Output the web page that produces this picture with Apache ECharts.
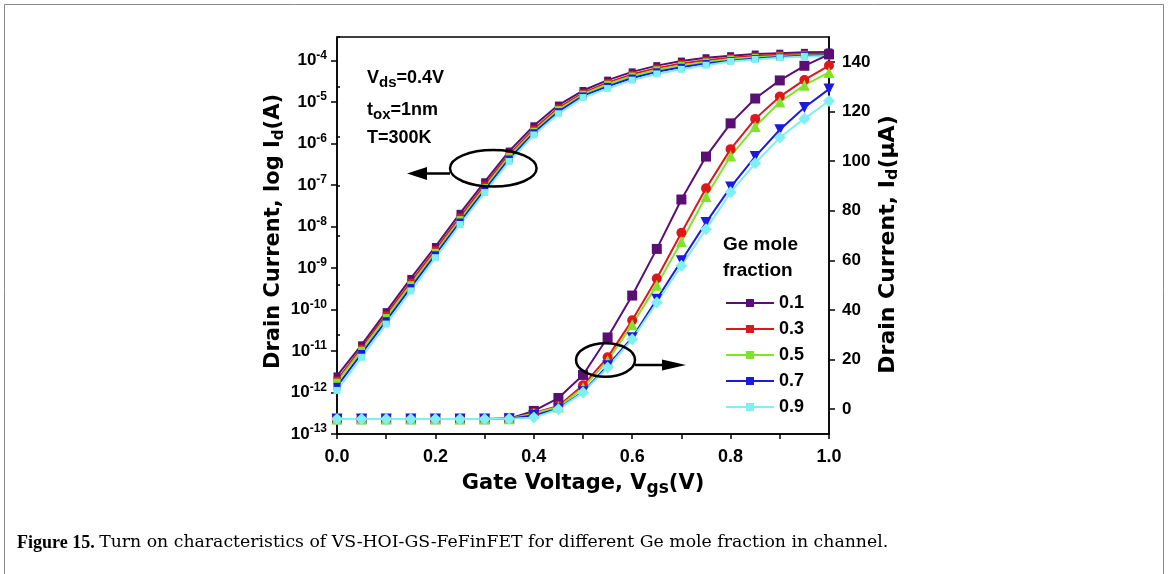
<!DOCTYPE html>
<html>
<head>
<meta charset="utf-8">
<script src="https://cdn.jsdelivr.net/npm/echarts@6/dist/echarts.min.js"></script>
<style>
html,body{margin:0;padding:0;background:#fff;}
#chart{width:1170px;height:574px;}
</style>
</head>
<body>
<div id="chart"></div>
<script>
// ---- data ----
const vgs = [0,0.05,0.1,0.15,0.2,0.25,0.3,0.35,0.4,0.45,0.5,0.55,0.6,0.65,0.7,0.75,0.8,0.85,0.9,0.95,1.0];
const fractions = ['0.1','0.3','0.5','0.7','0.9'];
// log10 of drain current (A), left axis
const logId_01 = [-11.60,-10.85,-10.05,-9.25,-8.48,-7.68,-6.92,-6.18,-5.57,-5.07,-4.72,-4.47,-4.27,-4.12,-4.01,-3.93,-3.88,-3.84,-3.82,-3.80,-3.79];
const logId_03 = [-11.70,-10.93,-10.13,-9.34,-8.56,-7.77,-7.00,-6.26,-5.65,-5.14,-4.78,-4.53,-4.33,-4.18,-4.07,-3.99,-3.93,-3.89,-3.86,-3.84,-3.83];
const logId_05 = [-11.75,-10.98,-10.19,-9.40,-8.62,-7.83,-7.06,-6.31,-5.70,-5.18,-4.81,-4.57,-4.37,-4.22,-4.11,-4.03,-3.96,-3.92,-3.89,-3.87,-3.86];
const logId_07 = [-11.85,-11.06,-10.27,-9.47,-8.68,-7.89,-7.12,-6.37,-5.74,-5.23,-4.85,-4.62,-4.42,-4.27,-4.16,-4.07,-4.00,-3.95,-3.91,-3.88,-3.87];
const logId_09 = [-11.95,-11.15,-10.35,-9.55,-8.75,-7.95,-7.18,-6.43,-5.79,-5.28,-4.89,-4.67,-4.47,-4.32,-4.21,-4.11,-4.02,-3.97,-3.93,-3.90,-3.89];
// linear drain current (uA), right axis
const linId_01 = [-4,-4,-4,-4,-4,-4,-4,-3.8,-0.7,4.5,13.8,28.9,45.8,64.6,84.5,101.8,115.2,125.2,132.5,138.4,143.0];
const linId_03 = [-4,-4,-4,-4,-4,-4,-4,-3.9,-1.5,1.3,9.6,20.9,35.8,52.7,71.1,89.0,104.8,117.0,126.0,132.7,138.5];
const linId_05 = [-4,-4,-4,-4,-4,-4,-4,-3.9,-1.7,0.9,8.6,19.5,34.0,50.0,67.5,85.7,102.0,113.9,123.8,130.6,135.7];
const linId_07 = [-4,-4,-4,-4,-4,-4,-4,-3.9,-2.5,0.2,7.0,17.5,28.8,44.3,59.8,75.2,89.5,101.8,112.6,121.6,129.0];
const linId_09 = [-4,-4,-4,-4,-4,-4,-4,-3.9,-3.4,0.0,6.7,16.8,28.2,43.0,57.8,72.5,87.4,99.1,109.5,117.1,124.2];
// tick labels
const xTicks = [0,0.2,0.4,0.6,0.8,1.0];
const xMinorTicks = [0,0.1,0.2,0.3,0.4,0.5,0.6,0.7,0.8,0.9,1.0];
const logTicks = [-13,-12,-11,-10,-9,-8,-7,-6,-5,-4];
const rightTicks = [0,20,40,60,80,100,120,140];
const rightMinorTicks = [-10,10,30,50,70,90,110,130,150];

const colors = ['#5A0F73','#E0161B','#7FE32A','#1A1AE0','#7FEFF2'];
const logData = [logId_01,logId_03,logId_05,logId_07,logId_09];
const linData = [linId_01,linId_03,linId_05,linId_07,linId_09];
const linSymbols = ['rect','circle','triangle','triangle','diamond'];
const linSymbolSize = [10,10,11,11,12];
const linSymbolRotate = [0,0,0,180,0];

const FONT = '"Liberation Sans", Arial, sans-serif';
const TFONT = '"DejaVu Sans", sans-serif';
const chart = echarts.init(document.getElementById('chart'), null, {renderer:'canvas'});

const series = [];
fractions.forEach((f,i)=>{
  series.push({
    name:f, type:'line', yAxisIndex:0, xAxisIndex:0,
    data: vgs.map((x,k)=>[x, logData[i][k]]),
    symbol:'rect', symbolSize:7,
    lineStyle:{color:colors[i], width:2},
    itemStyle:{color:colors[i]},
    animation:false, z:2
  });
});
fractions.forEach((f,i)=>{
  series.push({
    name:f, type:'line', yAxisIndex:1, xAxisIndex:0,
    data: vgs.map((x,k)=>[x, linData[i][k]]),
    symbol:linSymbols[i], symbolSize:linSymbolSize[i], symbolRotate:linSymbolRotate[i],
    lineStyle:{color:colors[i], width:2},
    itemStyle:{color:colors[i]},
    animation:false, z:3
  });
});

const axisLine = {show:true, onZero:false, lineStyle:{color:'#000', width:1.5}};
const subRich = (fs)=>({sub:{fontSize:fs, fontWeight:'bold', fontFamily:TFONT, lineHeight:12, verticalAlign:'bottom', color:'#000'}});

const option = {
  animation:false,
  backgroundColor:'#fff',
  grid:{left:337, top:37, width:492, height:397, show:true, borderColor:'#000', borderWidth:1.5, containLabel:false},
  xAxis:[{
    type:'value', min:0, max:1, interval:0.1,
    axisLine:axisLine,
    axisTick:{show:true, inside:false, length:5, lineStyle:{color:'#000', width:1.5}, customValues:xMinorTicks},
    axisLabel:{customValues:xTicks, formatter:v=>v.toFixed(1), color:'#000', fontSize:18, fontWeight:'bold', fontFamily:FONT, margin:14},
    splitLine:{show:false},
    name:'Gate Voltage, V{sub|gs}(V)', nameLocation:'middle', nameGap:34,
    nameTextStyle:{color:'#000', fontSize:21, fontWeight:'bold', fontFamily:TFONT, lineHeight:26, rich:subRich(17)}
  }],
  yAxis:[{
    type:'value', min:-13, max:-3.43, interval:1, position:'left',
    axisLine:axisLine,
    axisTick:{show:true, length:6, lineStyle:{color:'#000', width:1.5}, customValues:logTicks},
    axisLabel:{customValues:logTicks, margin:10, color:'#000', fontFamily:FONT,
      formatter:v=>'{b|10}{s|'+Math.round(v)+'}',
      rich:{b:{fontSize:17, fontWeight:'bold', fontFamily:FONT, lineHeight:22, color:'#000'},
            s:{fontSize:12, fontWeight:'bold', fontFamily:FONT, lineHeight:8, verticalAlign:'top', color:'#000'}}},
    splitLine:{show:false},
    name:'Drain Current, log I{sub|d}(A)', nameLocation:'middle', nameGap:43,
    nameTextStyle:{color:'#000', fontSize:21, fontWeight:'bold', fontFamily:TFONT, lineHeight:26, padding:[0,0,0,8], rich:subRich(15)}
  },{
    type:'value', min:-10, max:150, interval:10, position:'right',
    axisLine:axisLine,
    axisTick:{show:true, length:6, lineStyle:{color:'#000', width:1.5}, customValues:rightTicks},
    axisLabel:{customValues:rightTicks, margin:13, color:'#000', fontSize:17, fontWeight:'bold', fontFamily:FONT},
    splitLine:{show:false},
    name:'Drain Current, I{sub|d}(\u03bcA)', nameLocation:'middle', nameGap:46,
    nameTextStyle:{color:'#000', fontSize:22, fontWeight:'bold', fontFamily:TFONT, lineHeight:26, padding:[0,18,0,0], rich:subRich(16)}
  },{
    type:'value', min:-10, max:150, interval:10, position:'right',
    axisLine:{show:false},
    axisTick:{show:true, length:3, lineStyle:{color:'#000', width:1.5}, customValues:rightMinorTicks},
    axisLabel:{show:false},
    splitLine:{show:false}
  }],
  legend:{
    orient:'vertical', left:720, top:288, itemWidth:48, itemHeight:10, itemGap:6,
    data:fractions,
    textStyle:{color:'#000', fontSize:18, fontWeight:'bold', fontFamily:FONT, lineHeight:20},
    selectedMode:false
  },
  graphic:[
    {type:'rect', shape:{x:4.5, y:4.5, width:1159, height:600}, style:{fill:'none', stroke:'#8a8a8a', lineWidth:1}, silent:true},
    {type:'text', x:367, y:78, style:{text:'{a|V}{s|ds}{a|=0.4V}', textVerticalAlign:'middle', font:'bold 18px '+FONT, fill:'#000',
      rich:{a:{fontSize:18, fontWeight:'bold', fontFamily:FONT, lineHeight:24}, s:{fontSize:15, fontWeight:'bold', fontFamily:FONT, lineHeight:10, verticalAlign:'bottom'}}}},
    {type:'text', x:367, y:110, style:{text:'{a|t}{s|ox}{a|=1nm}', textVerticalAlign:'middle', font:'bold 18px '+FONT, fill:'#000',
      rich:{a:{fontSize:18, fontWeight:'bold', fontFamily:FONT, lineHeight:24}, s:{fontSize:15, fontWeight:'bold', fontFamily:FONT, lineHeight:10, verticalAlign:'bottom'}}}},
    {type:'text', x:367, y:138, style:{text:'T=300K', textVerticalAlign:'middle', font:'bold 18px '+FONT, fill:'#000'}},
    {type:'ellipse', shape:{cx:493.3, cy:168.3, rx:43.3, ry:18.3}, style:{fill:'none', stroke:'#000', lineWidth:2.5}, z:10},
    {type:'line', shape:{x1:450, y1:173.5, x2:425, y2:173.5}, style:{stroke:'#000', lineWidth:2.5}, z:10},
    {type:'polygon', shape:{points:[[407,173.5],[427,167],[427,180]]}, style:{fill:'#000'}, z:10},
    {type:'ellipse', shape:{cx:605.5, cy:360, rx:29.5, ry:16.7}, style:{fill:'none', stroke:'#000', lineWidth:2.5}, z:10},
    {type:'line', shape:{x1:635, y1:365, x2:664, y2:365}, style:{stroke:'#000', lineWidth:2.5}, z:10},
    {type:'polygon', shape:{points:[[686,365],[662,359.5],[662,370.5]]}, style:{fill:'#000'}, z:10},
    {type:'text', x:723, y:245, style:{text:'Ge mole', textVerticalAlign:'middle', font:'bold 19px '+FONT, fill:'#000'}},
    {type:'text', x:723, y:271, style:{text:'fraction', textVerticalAlign:'middle', font:'bold 19px '+FONT, fill:'#000'}},
    {type:'text', x:17, y:543, style:{text:'{b|Figure 15.} {r|Turn on characteristics of VS-HOI-GS-FeFinFET for different Ge mole fraction in channel.}',
      textVerticalAlign:'middle', font:'18px "Liberation Serif", serif', fill:'#000',
      rich:{b:{fontWeight:'bold', fontSize:18, fontFamily:'"Liberation Serif", serif'},
            r:{fontSize:17.3, fontFamily:'"DejaVu Serif", serif'}}}}
  ],
  series:series
};
chart.setOption(option);
</script>
</body>
</html>
